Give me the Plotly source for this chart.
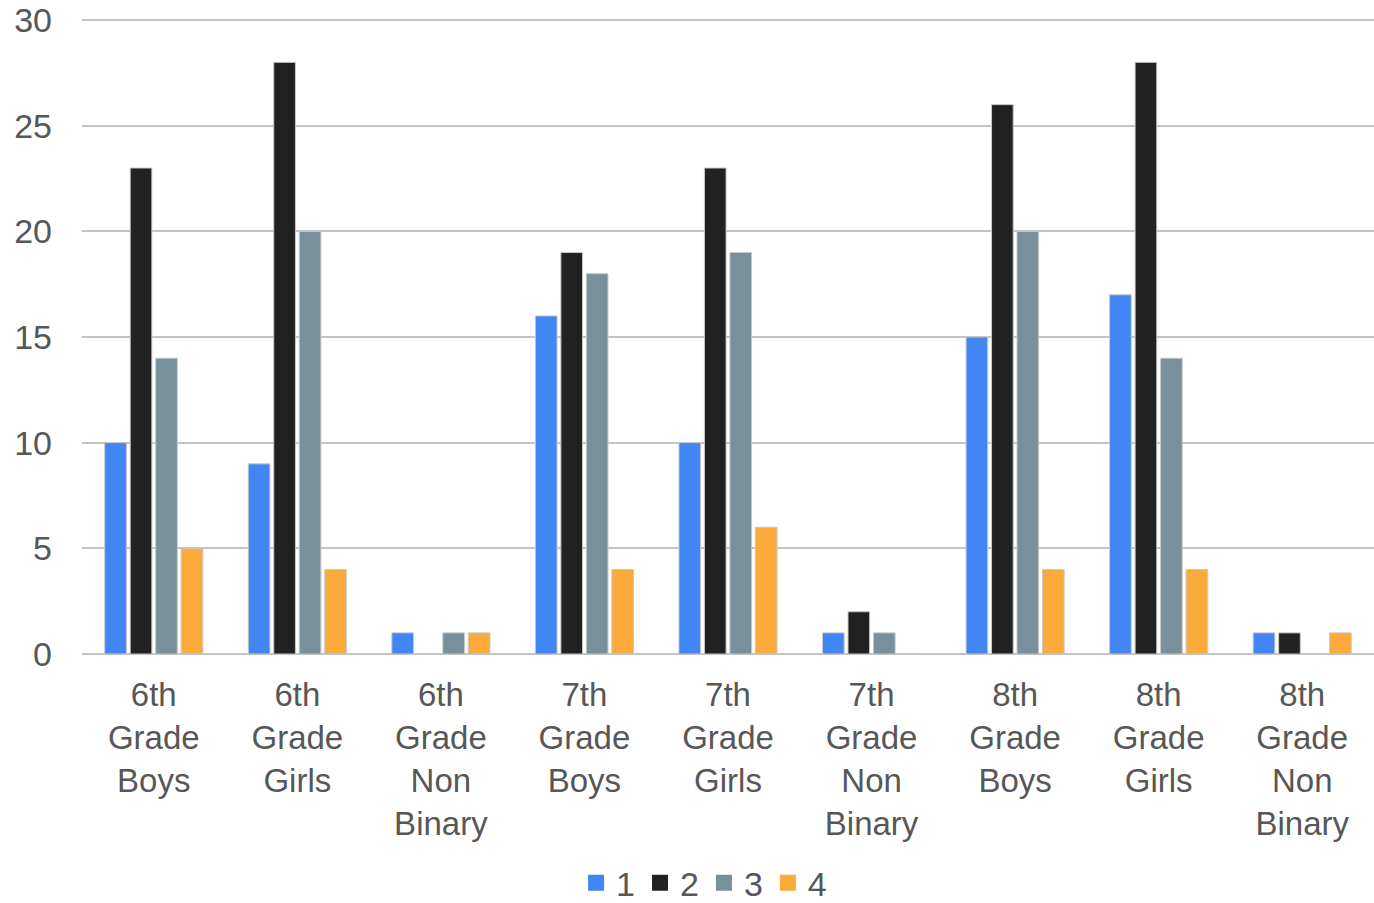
import plotly.graph_objects as go

categories = [
    "6th<br>Grade<br>Boys", "6th<br>Grade<br>Girls", "6th<br>Grade<br>Non<br>Binary",
    "7th<br>Grade<br>Boys", "7th<br>Grade<br>Girls", "7th<br>Grade<br>Non<br>Binary",
    "8th<br>Grade<br>Boys", "8th<br>Grade<br>Girls", "8th<br>Grade<br>Non<br>Binary",
]
series_names = ["1", "2", "3", "4"]
values_1 = [10, 9, 1, 16, 10, 1, 15, 17, 1]
values_2 = [23, 28, 0, 19, 23, 2, 26, 28, 1]
values_3 = [14, 20, 1, 18, 19, 1, 20, 14, 0]
values_4 = [5, 4, 1, 4, 6, 0, 4, 4, 1]
colors = ["#4285f4", "#212121", "#78909c", "#fbaa3c"]

fig = go.Figure()
for name, vals, col in zip(series_names, [values_1, values_2, values_3, values_4], colors):
    fig.add_trace(go.Bar(
        x=categories, y=vals, name=name, legendgroup=name, showlegend=False,
        marker=dict(color=col, line=dict(color="#c8c8c8", width=1)),
    ))
    # larger square swatch for the legend entry
    fig.add_trace(go.Scatter(
        x=[None], y=[None], name=name, legendgroup=name, mode="markers",
        marker=dict(symbol="square", size=17, color=col),
    ))

font_family = "Liberation Sans, Arial, sans-serif"
text_color = "#575757"
fig.update_layout(
    width=1374, height=903,
    margin=dict(l=82, r=0, t=18, b=249, autoexpand=False),
    paper_bgcolor="white", plot_bgcolor="white",
    barmode="group", bargap=0.29, bargroupgap=0.15,
    font=dict(family=font_family, size=34, color=text_color),
    showlegend=True,
    legend=dict(
        orientation="h", x=0.4815, xanchor="center",
        yref="container", y=0.022, yanchor="middle", itemsizing="trace",
        font=dict(size=34, color=text_color), itemwidth=30, tracegroupgap=0,
    ),
    xaxis=dict(
        showgrid=False, showline=False, ticks="", tickangle=0, automargin=False,
        ticklabelstandoff=18, tickfont=dict(size=33, color=text_color),
    ),
    yaxis=dict(
        range=[0, 30.1], tickvals=[0, 5, 10, 15, 20, 25, 30],
        showgrid=True, gridcolor="#c4c4c4", gridwidth=2,
        zeroline=True, zerolinecolor="#c4c4c4", zerolinewidth=2, showline=False,
        automargin=False, ticks="", ticklabelstandoff=29,
        tickfont=dict(size=34, color=text_color),
    ),
)

fig.write_html("out.html")
